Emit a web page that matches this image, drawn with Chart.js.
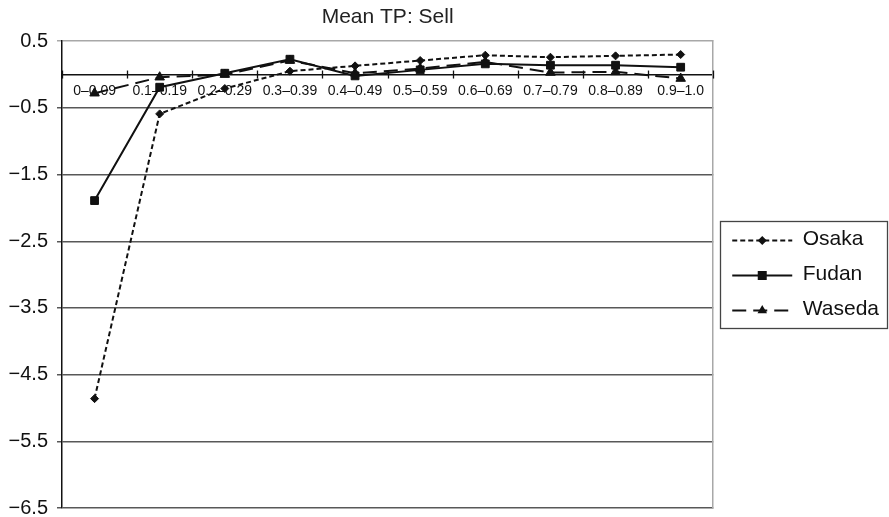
<!DOCTYPE html>
<html>
<head>
<meta charset="utf-8">
<title>Mean TP: Sell</title>
<script src="https://cdn.jsdelivr.net/npm/chart.js@4/dist/chart.umd.min.js"></script>
<style>
  html, body { margin: 0; padding: 0; background: #ffffff; }
  #wrap { width: 889px; height: 517px; }
</style>
</head>
<body>
<div id="wrap"><canvas id="chart" width="889" height="517"></canvas></div>
<script>
// Score-range bins along the horizontal axis
const categories = ['0\u20130.09', '0.1\u20130.19', '0.2\u20130.29', '0.3\u20130.39', '0.4\u20130.49',
                    '0.5\u20130.59', '0.6\u20130.69', '0.7\u20130.79', '0.8\u20130.89', '0.9\u20131.0'];

// Mean TP per bin for each university
const osaka  = [-4.86, -0.59, -0.21, 0.05, 0.13, 0.21, 0.29, 0.26, 0.28, 0.30];
const fudan  = [-1.89, -0.19, 0.02, 0.23, -0.02, 0.07, 0.16, 0.14, 0.14, 0.11];
const waseda = [-0.28, -0.04, 0.00, 0.21, 0.02, 0.09, 0.19, 0.03, 0.04, -0.06];

// Vertical axis ticks and their printed labels
const yTickValues = [0.5, -0.5, -1.5, -2.5, -3.5, -4.5, -5.5, -6.5];
const yTickLabels = ['0.5', '\u22120.5', '\u22121.5', '\u22122.5', '\u22123.5', '\u22124.5', '\u22125.5', '\u22126.5'];

const FONT = "'Liberation Sans', Arial, Helvetica, sans-serif";
const INK = '#111111';

// Small tick marks crossing the zero line at every bin boundary
const crossTicks = {
  id: 'crossTicks',
  beforeDatasetsDraw(chart) {
    const xs = chart.scales.x, ys = chart.scales.y;
    const y0 = ys.getPixelForValue(0);
    const ctx = chart.ctx;
    ctx.save();
    ctx.strokeStyle = INK;
    ctx.lineWidth = 1.3;
    for (let i = 0; i <= categories.length; i++) {
      const x = Math.round(xs.getPixelForValue(i - 0.5)) + 0.5;
      ctx.beginPath();
      ctx.moveTo(x, y0 - 4);
      ctx.lineTo(x, y0 + 4);
      ctx.stroke();
    }
    ctx.restore();
  }
};

function drawMarker(ctx, style, cx, cy) {
  ctx.beginPath();
  if (style === 'rectRot') {
    const r = 4.5;
    ctx.moveTo(cx, cy - r); ctx.lineTo(cx + r, cy); ctx.lineTo(cx, cy + r); ctx.lineTo(cx - r, cy);
  } else if (style === 'rect') {
    const s = 4.5;
    ctx.rect(cx - s, cy - s, 2 * s, 2 * s);
  } else {
    const r = 5.5;
    ctx.moveTo(cx, cy - r);
    ctx.lineTo(cx + r * 0.866, cy + r * 0.5);
    ctx.lineTo(cx - r * 0.866, cy + r * 0.5);
  }
  ctx.closePath();
  ctx.fill();
}

// Frame around the legend, plus the dashed sample line and marker of each entry
const legendDecor = {
  id: 'legendDecor',
  afterDraw(chart) {
    const lg = chart.legend;
    if (!lg || !lg.legendHitBoxes || !lg.legendHitBoxes.length) return;
    const hb = lg.legendHitBoxes;
    const ctx = chart.ctx;
    const first = hb[0], last = hb[hb.length - 1];
    const left = Math.round(first.left - 10) + 0.5;
    const top = Math.round(first.top - 8) + 0.5;
    const bottom = Math.round(last.top + last.height + 8) + 0.5;
    const right = chart.width - 1.5;
    ctx.save();
    ctx.strokeStyle = '#444444';
    ctx.lineWidth = 1.3;
    ctx.strokeRect(left, top, right - left, bottom - top);
    chart.data.datasets.forEach((d, i) => {
      const b = hb[i];
      if (!b) return;
      const x0 = b.left + 2, x1 = b.left + 62, cy = Math.round(b.top + b.height / 2) + 0.5;
      ctx.strokeStyle = INK;
      ctx.fillStyle = INK;
      ctx.lineWidth = 2;
      ctx.setLineDash(d.borderDash || []);
      ctx.beginPath();
      ctx.moveTo(x0, cy);
      ctx.lineTo(x1, cy);
      ctx.stroke();
      ctx.setLineDash([]);
      drawMarker(ctx, d.pointStyle, (x0 + x1) / 2, cy);
    });
    ctx.restore();
  }
};

const ds = (label, data, dash, style, radius) => ({
  label, data,
  borderColor: INK,
  backgroundColor: INK,
  borderWidth: 2,
  borderDash: dash,
  tension: 0,
  fill: false,
  pointStyle: style,
  pointRadius: radius,
  pointBackgroundColor: INK,
  pointBorderColor: INK,
  pointBorderWidth: 1
});

new Chart(document.getElementById('chart'), {
  type: 'line',
  data: {
    labels: categories,
    datasets: [
      ds('Osaka', osaka, [5, 3], 'rectRot', 4),
      ds('Fudan', fudan, [], 'rect', 5.5),
      ds('Waseda', waseda, [14, 7], 'triangle', 5.5)
    ]
  },
  options: {
    responsive: false,
    animation: false,
    events: [],
    layout: { padding: { left: 0, right: 0, top: 0, bottom: 9 } },
    plugins: {
      tooltip: { enabled: false },
      title: {
        display: true,
        text: 'Mean TP: Sell',
        fullSize: false,
        color: '#222222',
        font: { family: FONT, size: 21, weight: 'normal' },
        padding: { top: 5, bottom: 11 }
      },
      legend: {
        display: true,
        position: 'right',
        align: 'center',
        fullSize: false,
        maxWidth: 176,
        labels: {
          usePointStyle: true,
          pointStyle: 'line',
          pointStyleWidth: 62,
          padding: 14,
          color: INK,
          font: { family: FONT, size: 21 },
          generateLabels: chart => Chart.defaults.plugins.legend.labels.generateLabels(chart)
            .map(item => Object.assign(item, { strokeStyle: 'rgba(0,0,0,0)', fillStyle: 'rgba(0,0,0,0)', lineWidth: 0 }))
        }
      }
    },
    scales: {
      x: {
        type: 'category',
        position: { y: 0 },
        offset: true,
        grid: { display: true, drawOnChartArea: false, drawTicks: false, offset: true },
        border: { display: true, color: INK, width: 1.5 },
        ticks: {
          color: INK,
          padding: 8,
          maxRotation: 0,
          autoSkip: false,
          font: { family: FONT, size: 14 }
        }
      },
      y: {
        type: 'linear',
        position: 'left',
        min: -6.5,
        max: 0.5,
        afterBuildTicks: s => { s.ticks = yTickValues.map(v => ({ value: v })); },
        afterFit: s => { s.width = 62; s.paddingBottom = 0; s.paddingTop = 0; },
        grid: {
          color: c => (c.tick && c.tick.value === 0.5) ? '#a8a8a8' : '#585858',
          lineWidth: 1.5,
          tickLength: 5
        },
        border: { display: true, color: INK, width: 1.5 },
        ticks: {
          color: INK,
          padding: 9,
          font: { family: FONT, size: 20 },
          callback: v => yTickLabels[yTickValues.indexOf(v)]
        }
      },
      yRight: {
        type: 'linear',
        position: 'right',
        min: -6.5,
        max: 0.5,
        afterFit: s => { s.width = 3; },
        grid: { drawOnChartArea: false, drawTicks: false },
        border: { display: true, color: '#a8a8a8', width: 1.5 },
        ticks: { display: false }
      }
    }
  },
  plugins: [crossTicks, legendDecor]
});
</script>
</body>
</html>
